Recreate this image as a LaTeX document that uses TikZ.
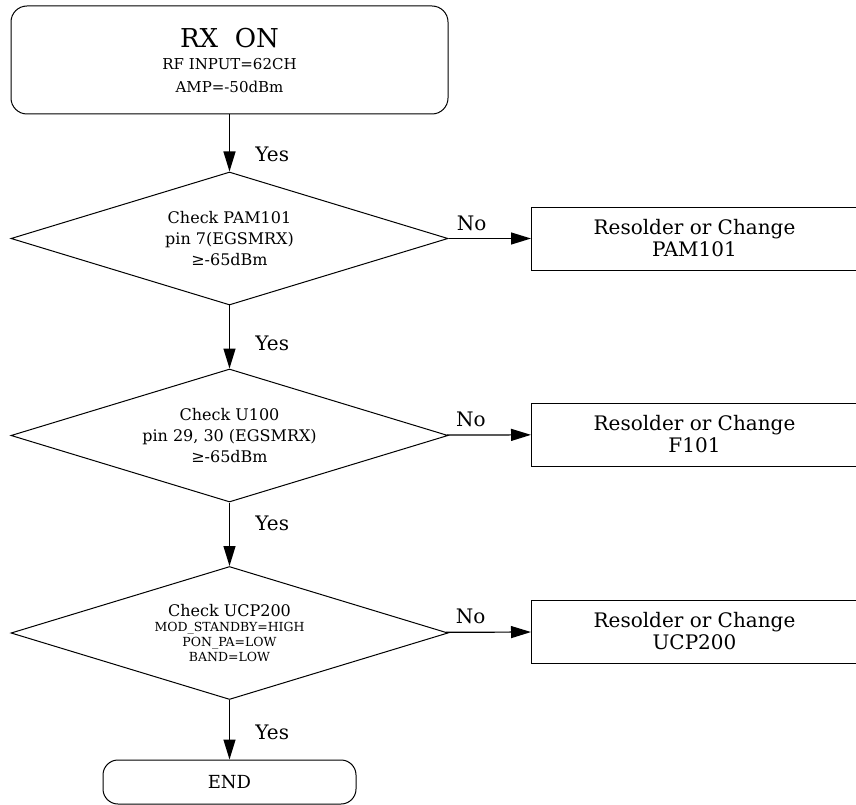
\documentclass[tikz,border=0pt]{standalone}
\usepackage{fontspec}
\setmainfont{DejaVu Serif}
\usetikzlibrary{shapes.geometric,arrows.meta}
\begin{document}
\begin{tikzpicture}[x=1pt,y=-1pt, line width=1pt,
    start/.style={draw, rounded corners=16pt, minimum width=437pt, minimum height=108pt, align=center, font=\fontsize{15}{23}\selectfont},
    check/.style={draw, diamond, aspect=3.28, inner sep=0pt, minimum width=437pt, minimum height=133pt, align=center, font=\fontsize{16}{21}\selectfont},
    fix/.style={draw, rectangle, minimum width=326pt, minimum height=63pt, align=center, font=\fontsize{20}{22}\selectfont},
    lbl/.style={font=\fontsize{20}{22}\selectfont},
    flow/.style={-{Triangle[length=20pt,width=12pt]}, line width=1.2pt}]
    \useasboundingbox (0,0) rectangle (856,805);
    \node[start] (RX) at (229.5,60) {{\fontsize{26}{30}\selectfont RX~~ON}\\[-1pt]
        RF~INPUT=62CH\\AMP=-50dBm};
    \node[check] (C1) at (229.5,238.5) {Check~PAM101\\pin~7(EGSMRX)\\≥-65dBm};
    \node[check] (C2) at (229.5,435.5) {Check~U100\\pin~29,~30~(EGSMRX)\\≥-65dBm};
    \node[check] (C3) at (229.5,633) {Check~UCP200\\[-6pt]{\fontsize{12.5}{12}\selectfont MOD\_STANDBY=HIGH}\\[-6pt]
        {\fontsize{12.5}{12}\selectfont PON\_PA=LOW}\\[-6pt]{\fontsize{12.5}{12}\selectfont BAND=LOW}};
    \node[fix] (F1) at (694.5,238.5) {Resolder~or~Change\\PAM101};
    \node[fix] (F2) at (694.5,434.5) {Resolder~or~Change\\F101};
    \node[fix] (F3) at (694.5,631.5) {Resolder~or~Change\\UCP200};
    \node[draw, rounded corners=15pt, minimum width=253pt, minimum height=44pt, font=\fontsize{18}{20}\selectfont] (END) at (229.5,782) {END};
    \draw[flow] (RX) -- (C1) node[lbl, pos=0.7, right=22pt] {Yes};
    \draw[flow] (C1) -- (C2) node[lbl, pos=0.6, right=22pt] {Yes};
    \draw[flow] (C2) -- (C3) node[lbl, pos=0.33, right=22pt] {Yes};
    \draw[flow] (C3) -- (END) node[lbl, pos=0.55, right=22pt] {Yes};
    \draw[flow] (C1) -- (F1) node[lbl, midway, above=4pt, xshift=-18pt] {No};
    \draw[flow] (C2) -- (F2) node[lbl, midway, above=4pt, xshift=-18pt] {No};
    \draw[flow] (C3) -- (F3) node[lbl, midway, above=4pt, xshift=-18pt] {No};
  \end{tikzpicture}
\end{document}
